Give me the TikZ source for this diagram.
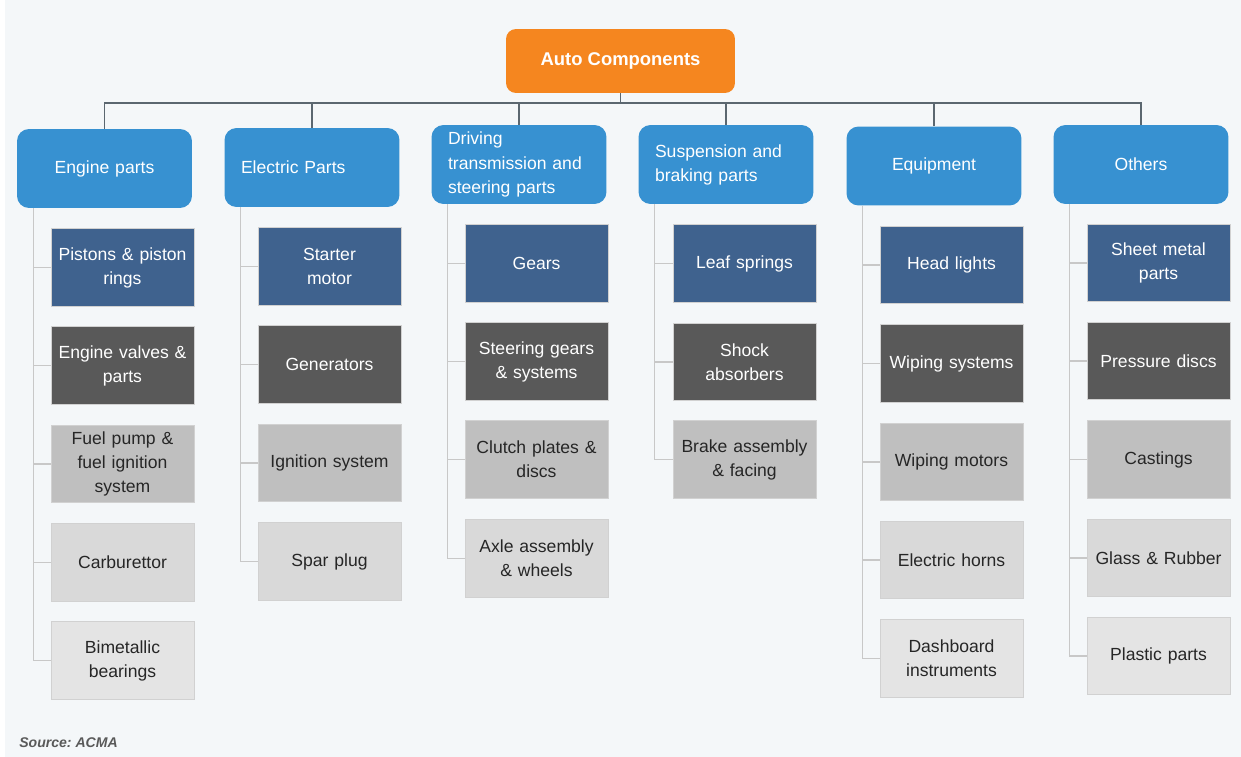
\documentclass[tikz,border=0pt]{standalone}
\usepackage{fontspec}
\setmainfont{Liberation Sans}
\definecolor{bgcol}{HTML}{F4F7F9}
\definecolor{orangecol}{HTML}{F5861F}
\definecolor{bluecol}{HTML}{3791D1}
\definecolor{navycol}{HTML}{3F628E}
\definecolor{darkgraycol}{HTML}{595959}
\definecolor{midgraycol}{HTML}{BFBFBF}
\definecolor{lightgraycol}{HTML}{D9D9D9}
\definecolor{palegraycol}{HTML}{E4E4E4}
\definecolor{buscol}{HTML}{5B6770}
\definecolor{branchcol}{HTML}{C8C8C8}
\definecolor{txtdark}{HTML}{262626}
\tikzset{
  rootbox/.style={rounded corners=0.2cm,fill=orangecol,text=white,
    font=\fontsize{10.5pt}{13pt}\selectfont\bfseries,minimum width=4.58cm,minimum height=1.28cm},
  catbox/.style={rounded corners=0.24cm,fill=bluecol,text=white,
    font=\fontsize{10pt}{13.7pt}\selectfont,text width=2.84cm,inner xsep=0.33cm,
    minimum height=1.58cm,align=center},
  catleft/.style={catbox,align=left},
  partbox/.style={draw=white!82!black,line width=0.4pt,font=\fontsize{10pt}{13.7pt}\selectfont,
    text width=2.66cm,inner xsep=0.1cm,minimum height=1.55cm,align=center},
  darkpart/.style={partbox,fill=#1,text=white},
  lightpart/.style={partbox,fill=#1,text=txtdark},
  busline/.style={buscol,line width=0.85pt},
  branch/.style={branchcol,line width=0.6pt}
}
\begin{document}
\begin{tikzpicture}[x=0.02cm,y=-0.02cm]
\useasboundingbox(0,0)rectangle(1241,757);
\fill[bgcol](5,0)rectangle(1241,757);
%top
\node[rootbox](root)at(620.5,61){Auto Components};
\coordinate(bus)at(620.5,103);
%categories
\node[catbox](c1)at(104.5,168.5){Engine parts};
\node[catleft](c2)at(312,167.5){Electric Parts};
\node[catleft](c3)at(519,164.5){Driving\\transmission and\\steering parts};
\node[catleft](c4)at(726,164.5){Suspension and\\braking parts};
\node[catbox](c5)at(934,166){Equipment};
\node[catbox](c6)at(1141,164.5){Others};
\draw[busline](root.south)--(bus);
\foreach \c in {c1,c2,c3,c4,c5,c6}
  \draw[busline](\c.north)|-(bus);
%engine parts
\node[darkpart=navycol](p11)at(122.5,267.5){Pistons \& piston\\rings};
\node[darkpart=darkgraycol](p12)at(122.5,365.5){Engine valves \&\\parts};
\node[lightpart=midgraycol](p13)at(122.5,464){Fuel pump \&\\fuel ignition\\system};
\node[lightpart=lightgraycol](p14)at(122.5,562.5){Carburettor};
\node[lightpart=palegraycol](p15)at(122.5,660.5){Bimetallic\\bearings};
%electric parts
\node[darkpart=navycol](p21)at(329.5,266.5){Starter\\motor};
\node[darkpart=darkgraycol](p22)at(329.5,364.5){Generators};
\node[lightpart=midgraycol](p23)at(329.5,463){Ignition system};
\node[lightpart=lightgraycol](p24)at(329.5,561.5){Spar plug};
%driving
\node[darkpart=navycol](p31)at(536.5,263.5){Gears};
\node[darkpart=darkgraycol](p32)at(536.5,361.5){Steering gears\\\& systems};
\node[lightpart=midgraycol](p33)at(536.5,459.5){Clutch plates \&\\discs};
\node[lightpart=lightgraycol](p34)at(536.5,558.5){Axle assembly\\\& wheels};
%suspension
\node[darkpart=navycol](p41)at(744.5,263.5){Leaf springs};
\node[darkpart=darkgraycol](p42)at(744.5,362){Shock\\absorbers};
\node[lightpart=midgraycol](p43)at(744.5,459.5){Brake assembly\\\& facing};
%equipment
\node[darkpart=navycol](p51)at(951.5,265){Head lights};
\node[darkpart=darkgraycol](p52)at(951.5,363.5){Wiping systems};
\node[lightpart=midgraycol](p53)at(951.5,462){Wiping motors};
\node[lightpart=lightgraycol](p54)at(951.5,560){Electric horns};
\node[lightpart=palegraycol](p55)at(951.5,658.5){Dashboard\\instruments};
%others
\node[darkpart=navycol](p61)at(1158.5,263){Sheet metal\\parts};
\node[darkpart=darkgraycol](p62)at(1158.5,361){Pressure discs};
\node[lightpart=midgraycol](p63)at(1158.5,459.5){Castings};
\node[lightpart=lightgraycol](p64)at(1158.5,558){Glass \& Rubber};
\node[lightpart=palegraycol](p65)at(1158.5,656){Plastic parts};
%branches
\foreach \c/\n in {1/5,2/4,3/4,4/3,5/5,6/5}
  \foreach \r in {1,...,\n}
    \draw[branch]([xshift=0.33cm]c\c.south west)|-(p\c\r.west);
%source
\node[anchor=west,inner sep=0pt,text=darkgraycol,font=\fontsize{8pt}{10pt}\selectfont\bfseries\itshape](src)at(19,743){Source:\ ACMA};
\end{tikzpicture}
\end{document}
